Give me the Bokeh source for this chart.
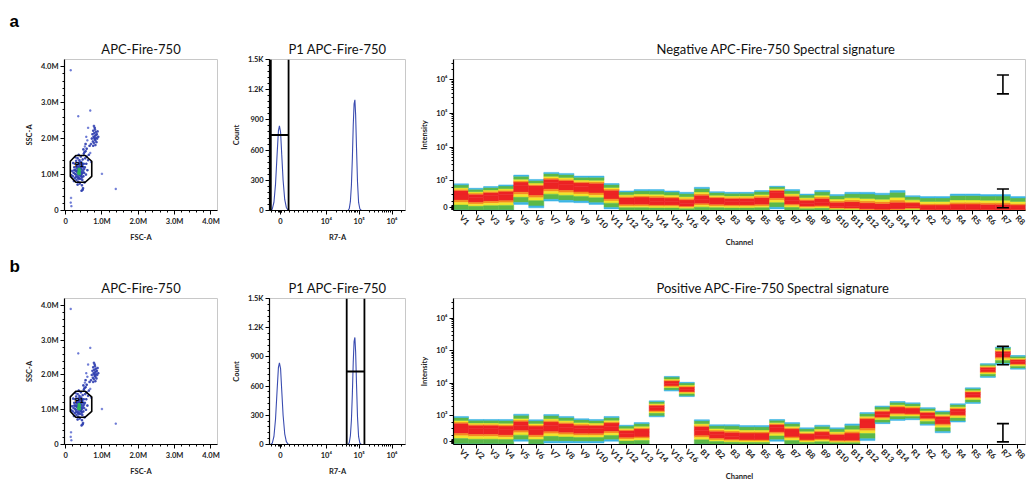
import math
from bokeh.plotting import figure
from bokeh.layouts import row, column
from bokeh.models import FixedTicker, Range1d, Title
from bokeh.embed import file_html
from bokeh.resources import INLINE

# ---------------- data ----------------
# Scatter FSC-A / SSC-A (in millions)
main_fsc = [0.20, 0.22, 0.24, 0.25, 0.26, 0.27, 0.28, 0.29, 0.30, 0.30, 0.31, 0.32, 0.32, 0.33, 0.34, 0.34,
            0.35, 0.35, 0.36, 0.36, 0.37, 0.37, 0.38, 0.38, 0.39, 0.39, 0.40, 0.40, 0.41, 0.41, 0.42, 0.42,
            0.43, 0.43, 0.44, 0.45, 0.45, 0.46, 0.46, 0.47, 0.48, 0.48, 0.49, 0.50, 0.50, 0.51, 0.52, 0.53,
            0.54, 0.55, 0.56, 0.57, 0.58, 0.60, 0.62, 0.64, 0.66, 0.18, 0.16, 0.21, 0.23, 0.27, 0.33, 0.36,
            0.44, 0.47, 0.52, 0.58, 0.49, 0.55, 0.29, 0.31, 0.34, 0.38, 0.40, 0.42, 0.44, 0.46, 0.26, 0.35,
            0.39, 0.43, 0.51, 0.24, 0.37, 0.41, 0.45, 0.33, 0.28, 0.48]
main_ssc = [0.95, 1.05, 1.20, 0.90, 1.30, 1.12, 1.00, 1.38, 0.85, 1.18, 1.08, 0.95, 1.25, 1.45, 1.02, 1.15,
            0.80, 1.32, 1.10, 0.92, 1.05, 1.22, 0.98, 1.40, 1.12, 0.75, 1.00, 1.28, 1.18, 0.88, 1.08, 1.50,
            0.95, 1.35, 1.14, 0.70, 1.02, 1.25, 0.85, 1.42, 1.10, 0.62, 0.95, 1.30, 1.58, 1.05, 0.78, 1.20,
            1.45, 1.65, 1.00, 1.30, 1.72, 1.12, 1.40, 1.55, 1.80, 1.10, 0.98, 1.32, 0.82, 1.48, 0.72, 1.55,
            0.55, 0.58, 1.62, 1.50, 1.70, 1.85, 1.10, 1.22, 0.90, 1.28, 1.15, 0.98, 1.30, 1.05, 1.02, 1.20,
            1.35, 1.22, 1.15, 1.12, 0.88, 1.00, 0.92, 1.10, 0.93, 1.20]
clu2_fsc = [0.72, 0.74, 0.75, 0.76, 0.77, 0.78, 0.79, 0.80, 0.80, 0.81, 0.82, 0.83, 0.84, 0.85, 0.86,
            0.87, 0.88, 0.76, 0.70, 0.90, 0.78, 0.82, 0.79, 0.84, 0.81]
clu2_ssc = [2.00, 2.12, 1.92, 2.22, 2.05, 1.88, 2.15, 1.98, 2.30, 2.08, 1.95, 2.18, 2.02, 1.90, 2.12,
            2.00, 2.20, 1.80, 1.85, 2.05, 2.35, 1.82, 2.02, 2.10, 2.25]
out_fsc = [0.14, 0.35, 0.68, 0.15, 0.14, 0.16, 1.38, 1.00, 0.62, 0.60, 0.68, 0.70, 0.57, 0.53]
out_ssc = [3.90, 2.62, 2.78, 0.35, 0.22, 0.12, 0.60, 1.02, 2.30, 1.95, 1.60, 1.35, 2.05, 1.78]
core_fsc = [0.36, 0.37, 0.38, 0.38, 0.37]
core_ssc = [1.04, 1.09, 1.02, 1.12, 1.15]
gate_fsc = [0.28, 0.54, 0.72, 0.72, 0.54, 0.28, 0.13, 0.13]
gate_ssc = [1.53, 1.53, 1.37, 0.95, 0.785, 0.785, 0.95, 1.37]
scatter_ticks = [0, 1, 2, 3, 4]
scatter_labels = ["0", "1.0M", "2.0M", "3.0M", "4.0M"]

# Histogram R7-A
neg_r7 = [-2100, -1750, -1400, -1050, -700, -420, -200, 50, 300, 600, 950, 1300, 1650, 2000]
neg_count = [0, 15, 80, 260, 560, 790, 840, 780, 560, 300, 110, 30, 5, 0]
pos_r7 = [46000, 50000, 54000, 58000, 62000, 66000, 70000, 74000, 78000, 83000, 89000, 96000, 105000, 116000]
pos_count = [0, 20, 90, 250, 520, 850, 1060, 1100, 950, 620, 280, 80, 15, 0]
gate_hist_a = [-2070, 1790]
gate_hist_b = [41700, 144500]
gate_hist_level = 750
count_ticks = [0, 300, 600, 900, 1200, 1500]
count_labels = ["0", "300", "600", "900", "1.2K", "1.5K"]

# Spectral signatures
channels = ["V1", "V2", "V3", "V4", "V5", "V6", "V7", "V8", "V9", "V10", "V11", "V12", "V13", "V14", "V15", "V16",
            "B1", "B2", "B3", "B4", "B5", "B6", "B7", "B8", "B9", "B10", "B11", "B12", "B13", "B14",
            "R1", "R2", "R3", "R4", "R5", "R6", "R7", "R8"]
neg_high = [888, 725, 790, 850, 1480, 1100, 1780, 1660, 1380, 1380, 900, 625, 675, 675, 625, 575,
            760, 600, 575, 575, 640, 800, 675, 510, 640, 490, 575, 575, 540, 640,
            450, 415, 415, 510, 510, 490, 490, 415]
neg_low = [-150, -150, -150, -150, 125, 0, 250, 210, 190, 125, -40, -150, -150, -150, -150, -150,
           -150, -150, -150, -150, -150, -40, -150, -150, -150, -150, -150, -150, -150, -150,
           -150, -150, -150, -150, -150, -150, -150, -150]
neg_mode = [512, 390, 450, 480, 820, 700, 925, 870, 800, 775, 515, 250, 250, 225, 225, 150,
            310, 250, 225, 225, 250, 560, 275, 150, 190, 60, 40, -25, -40, -25,
            40, -60, -60, -60, -60, -60, -60, -60]
pos_high = [975, 860, 860, 860, 1120, 850, 1100, 975, 890, 860, 975, 640, 740, 2880, 16200, 10700,
            850, 660, 660, 625, 625, 860, 740, 540, 640, 540, 690, 1260, 2000, 2750,
            2510, 1780, 1410, 2340, 7240, 39800, 129000, 70800]
pos_low = [-150, -150, -150, -150, 25, -150, -40, -40, -40, -40, 25, -150, -150, 960, 5750, 3890,
           -150, -150, -150, -150, -150, 25, -150, -150, -150, -150, -150, 50, 700, 825,
           850, 640, 350, 760, 2400, 15100, 37200, 26900]
pos_mode = [575, 515, 515, 475, 640, 475, 625, 560, 500, 500, 600, 325, 375, 1780, 10000, 6450,
            450, 275, 210, 190, 190, 560, 375, 190, 250, 150, 150, 760, 1120, 1510,
            1410, 1050, 860, 1350, 4570, 26900, 81300, 45700]
err_channel = "R7"
neg_err_upper = [380000, 1380000]
neg_err_lower = [0, 700]
pos_err_upper = [37000, 135000]
pos_err_lower = [0, 700]
spec_tick_values = [0, 1e3, 1e4, 1e5, 1e6]
spec_tick_labels = ["0", "10³", "10⁴", "10⁵", "10⁶"]
hist_tick_values = [0, 1e4, 1e5, 1e6]
hist_tick_labels = ["0", "10⁴", "10⁵", "10⁶"]

# ---------------- transforms ----------------
def biex_spec(v):
    return math.log10(v) - 2.2 if v >= 1000 else 0.8 * v / 1000.0

def biex_hist(v):
    return math.log10(v) - 2.6 if v >= 1e4 else 1.4 * v / 1e4

R = lambda x: round(x, 6)

FONT = "Lato"
BAND_FRAC = [0.0, 0.35, 0.47, 0.62, 0.9, 1.0]
BAND_COL = ["#ec2324", "#f58b1f", "#f2e52b", "#5cb848", "#3db5e6"]


def style_axes(p):
    p.xgrid.visible = False
    p.ygrid.visible = False
    p.outline_line_color = "#c8c8c8"
    p.background_fill_color = "white"
    p.border_fill_color = "white"
    for ax in list(p.xaxis) + list(p.yaxis):
        ax.axis_line_color = "black"
        ax.axis_line_width = 1.2
        ax.major_tick_line_color = "black"
        ax.minor_tick_line_color = "black"
        ax.major_tick_in = 0
        ax.major_tick_out = 4
        ax.minor_tick_in = 0
        ax.minor_tick_out = 2
        ax.major_label_text_font = FONT
        ax.major_label_text_font_size = "7.5px"
        ax.major_label_text_font_style = "bold"
        ax.major_label_text_color = "#222222"
        ax.major_label_standoff = 2
        ax.axis_label_text_font = FONT
        ax.axis_label_text_font_size = "7.5px"
        ax.axis_label_text_font_style = "bold"
        ax.axis_label_text_color = "#222222"
        ax.axis_label_standoff = 4


def style_title(p, text, align="center", offset=0):
    p.title.text = text
    p.title.text_font = FONT
    p.title.text_font_size = "13px"
    p.title.text_font_style = "normal"
    p.title.text_color = "#111111"
    p.title.align = align
    p.title.offset = offset
    p.title.standoff = 5


def scatter_fig(h, bt, bb, panel_letter, letter_standoff):
    p = figure(width=228, height=h, min_border_left=64, min_border_right=11,
               min_border_top=bt, min_border_bottom=bb,
               x_range=Range1d(-0.03, 4.18), y_range=Range1d(0, 4.2),
               output_backend="svg", toolbar_location=None)
    # the figure's own title (outermost) carries the panel letter
    p.title.text = panel_letter
    p.title.align = "left"
    p.title.offset = -55
    p.title.standoff = letter_standoff
    p.title.text_font = "Liberation Sans"
    p.title.text_font_size = "17px"
    p.title.text_font_style = "bold"
    p.title.text_color = "black"
    p.add_layout(Title(text="APC-Fire-750", align="center", standoff=5, text_font=FONT,
                       text_font_size="13px", text_font_style="normal", text_color="#111111"),
                 "above")
    p.scatter(main_fsc, main_ssc, marker="square", size=1.5, color="#2f3fb0", alpha=0.85)
    p.scatter(clu2_fsc, clu2_ssc, marker="square", size=1.5, color="#2f3fb0", alpha=0.8)
    p.scatter(out_fsc, out_ssc, marker="square", size=1.4, color="#5a6ad0", alpha=0.7)
    p.scatter(core_fsc, core_ssc, marker="square", size=2.0, color="#2fb45a")
    p.patch(gate_fsc, gate_ssc, fill_color=None, line_color="black", line_width=1.6)
    p.text([0.26], [1.17], text=["P1"], text_font_size="7px", text_font_style="bold",
           text_color="black")
    p.xaxis.ticker = FixedTicker(ticks=scatter_ticks, minor_ticks=[R(0.2 * k) for k in range(21)])
    p.yaxis.ticker = FixedTicker(ticks=scatter_ticks, minor_ticks=[R(0.2 * k) for k in range(21)])
    p.xaxis.major_label_overrides = {t: l for t, l in zip(scatter_ticks, scatter_labels)}
    p.yaxis.major_label_overrides = {t: l for t, l in zip(scatter_ticks, scatter_labels)}
    p.xaxis.axis_label = "FSC-A"
    p.yaxis.axis_label = "SSC-A"
    style_axes(p)
    return p


def hist_fig(h, bt, bb, gate):
    p = figure(width=187, height=h, min_border_left=32, min_border_right=10,
               min_border_top=bt, min_border_bottom=bb,
               x_range=Range1d(-0.33, 3.81), y_range=Range1d(0, 1500),
               output_backend="svg", toolbar_location=None)
    style_title(p, "P1 APC-Fire-750")
    p.line([biex_hist(v) for v in neg_r7], neg_count, line_color="#3a4cb0", line_width=1.1)
    p.line([biex_hist(v) for v in pos_r7], pos_count, line_color="#3a4cb0", line_width=1.1)
    g0, g1 = biex_hist(gate[0]), biex_hist(gate[1])
    p.segment([g0, g1, g0], [0, 0, gate_hist_level], [g0, g1, g1], [1500, 1500, gate_hist_level],
              line_color="black", line_width=1.8)
    xt = [R(biex_hist(v)) for v in hist_tick_values]
    minors = [-2000, -1000, -300, -150, 150, 300] + [1000 * k for k in range(1, 10)]
    minors += [m * 10 ** e for e in (4, 5) for m in range(2, 10)] + [2e6]
    p.xaxis.ticker = FixedTicker(ticks=xt, minor_ticks=[R(biex_hist(v)) for v in minors])
    p.xaxis.major_label_overrides = {t: l for t, l in zip(xt, hist_tick_labels)}
    p.yaxis.ticker = FixedTicker(ticks=count_ticks, minor_ticks=list(range(0, 1501, 60)))
    p.yaxis.major_label_overrides = {t: l for t, l in zip(count_ticks, count_labels)}
    p.xaxis.axis_label = "R7-A"
    p.yaxis.axis_label = "Count"
    style_axes(p)
    return p


def spec_fig(h, bt, bb, title, high, low, mode, err_up, err_lo):
    p = figure(width=612, height=h, min_border_left=38, min_border_right=2,
               min_border_top=bt, min_border_bottom=bb,
               x_range=Range1d(0, len(channels)), y_range=Range1d(-0.08, 4.4),
               output_backend="svg", toolbar_location=None)
    style_title(p, title, align="left", offset=203)
    lefts, rights, tops, bottoms, cols = [], [], [], [], []
    for i in range(len(channels)):
        H, L, M = biex_spec(high[i]), biex_spec(low[i]), biex_spec(mode[i])
        for k in range(len(BAND_COL)):
            f0, f1 = BAND_FRAC[k], BAND_FRAC[k + 1]
            lefts.append(i); rights.append(i + 1)
            bottoms.append(M + f0 * (H - M)); tops.append(M + f1 * (H - M)); cols.append(BAND_COL[k])
            lefts.append(i); rights.append(i + 1)
            tops.append(M - f0 * (M - L)); bottoms.append(M - f1 * (M - L)); cols.append(BAND_COL[k])
    p.quad(left=lefts, right=rights, top=tops, bottom=bottoms, fill_color=cols, line_color=cols,
           line_width=0.5)
    xc = channels.index(err_channel) + 0.5
    for lo, hi in (err_up, err_lo):
        y0, y1 = biex_spec(lo), biex_spec(hi)
        p.segment([xc, xc - 0.4, xc - 0.4], [y0, y0, y1], [xc, xc + 0.4, xc + 0.4], [y1, y0, y1],
                  line_color="black", line_width=1.6)
    yt = [R(biex_spec(v)) for v in spec_tick_values]
    minors = [-80, -60, -40, -20, 20, 40, 60, 80, 250, 500, 750]
    minors += [m * 10 ** e for e in (3, 4, 5) for m in range(2, 10)] + [2e6, 3e6]
    p.yaxis.ticker = FixedTicker(ticks=yt, minor_ticks=[R(biex_spec(v)) for v in minors])
    p.yaxis.major_label_overrides = {t: l for t, l in zip(yt, spec_tick_labels)}
    xt = [i + 0.5 for i in range(len(channels))]
    p.xaxis.ticker = FixedTicker(ticks=xt, minor_ticks=[])
    p.xaxis.major_label_overrides = {t: l for t, l in zip(xt, channels)}
    p.xaxis.major_label_orientation = -math.pi / 4
    p.xaxis.axis_label = "Channel"
    p.yaxis.axis_label = "Intensity"
    style_axes(p)
    p.xaxis.major_label_text_font_size = "8px"
    p.xaxis.axis_label_standoff = 1
    p.xaxis.major_label_standoff = 2
    return p


# Row a: page y 0..250 ; frame 59..211
ha, bta, bba = 250, 59, 39
# Row b: page y 250..484 ; frame 298..450
hb, btb, bbb = 234, 48, 34

sa = scatter_fig(ha, bta, bba, "a", 12)
ha_ = hist_fig(ha, bta, bba, gate_hist_a)
spa = spec_fig(ha, bta, bba, "Negative APC-Fire-750 Spectral signature", neg_high, neg_low, neg_mode,
               neg_err_upper, neg_err_lower)
sb = scatter_fig(hb, btb, bbb, "b", 0)
hb_ = hist_fig(hb, btb, bbb, gate_hist_b)
spb = spec_fig(hb, btb, bbb, "Positive APC-Fire-750 Spectral signature", pos_high, pos_low, pos_mode,
               pos_err_upper, pos_err_lower)

layout = column(row(sa, ha_, spa, spacing=0), row(sb, hb_, spb, spacing=0), spacing=0)
open("out.html", "w").write(file_html(layout, INLINE))
